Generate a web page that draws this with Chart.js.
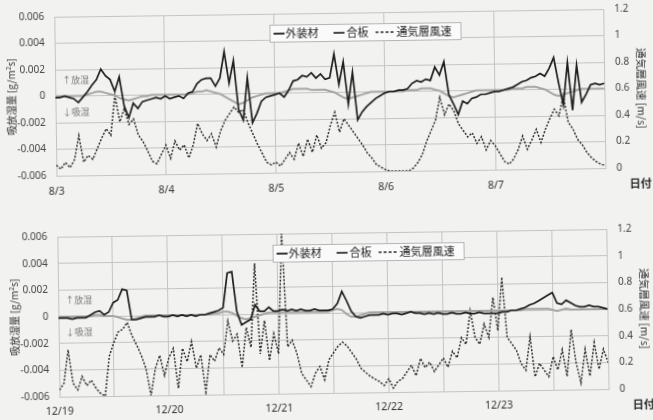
<!DOCTYPE html>
<html>
<head>
<meta charset="utf-8">
<script src="https://cdn.jsdelivr.net/npm/chart.js@4.4.0/dist/chart.umd.min.js"></script>
<style>
  html, body { margin: 0; padding: 0; background: #f2f2f0; }
  #wrap { width: 653px; height: 420px; transform: rotate(-0.8deg); transform-origin: 326px 210px; }
  .box { width: 653px; height: 210px; position: relative; }
  #topChart { position: absolute; left: 0; top: -4px; }
</style>
</head>
<body>
<div id="wrap">
  <div class="box"><canvas id="topChart" width="653" height="214"></canvas></div>
  <div class="box"><canvas id="bottomChart" width="653" height="210"></canvas></div>
</div>
<script>
// hours from the first day 0:00, one value per hour
const topDays = ['8/3', '8/4', '8/5', '8/6', '8/7'];
const bottomDays = ['12/19', '12/20', '12/21', '12/22', '12/23'];
const leftTickLabels = ['-0.006', '-0.004', '-0.002', '0', '0.002', '0.004', '0.006'];
const rightTickLabels = ['0', '0.2', '0.4', '0.6', '0.8', '1', '1.2'];
const seriesNames = ['外装材', '合板', '通気層風速'];

// summer: 外装材 [g/m2s]
const topOuter = [
  -0.0001, -0.0001, 0, -0.0001, -0.0002, -0.0005, -0.0001, 0.0003, 0.0008, 0.0012,
  0.002, 0.0015, 0.0012, 0.0003, 0.0014, -0.0008, -0.0017, -0.0006, -0.001, -0.0005,
  -0.0004, -0.0003, -0.0002, -0.0003, -0.0001, -0.0003, -0.0002, -0.0001, -0.0003, 0.0001,
  0.0002, 0.0008, 0.0011, 0.0012, 0.0012, 0.0006, 0.0012, 0.0032, 0.0008, 0.0025,
  -0.0012, -0.002, 0.0012, -0.0022, -0.0015, -0.0006, -0.0003, -0.0002, -0.0001, 0,
  -0.0003, 0.0002, 0.0009, 0.001, 0.0013, 0.0012, 0.0015, 0.0011, 0.0014, 0.001,
  0.0011, 0.0029, 0.0006, 0.0023, -0.0009, 0.0015, -0.0021, -0.0015, -0.0011, -0.0008,
  -0.0005, -0.0003, -0.0001, 0, 0, 0.0001, 0.0001, 0.0002, 0.0006, 0.0008,
  0.0007, 0.0009, 0.0008, 0.0018, 0.0012, 0.0022, -0.0003, -0.001, -0.0018, -0.0008,
  -0.001, -0.0006, -0.0005, -0.0003, -0.0003, -0.0002, -0.0001, -0.0001, 0, 0.0001,
  0.0002, 0.0004, 0.0006, 0.0007, 0.0009, 0.001, 0.0012, 0.001, 0.0016, 0.0024,
  0.0005, -0.0012, 0.002, -0.0016, 0.0018, -0.001, -0.0004, 0.0003, 0.0004, 0.0003, 0.0004
];
// summer: 合板 [g/m2s]
const topPly = [
  0, 0, 0, 0, 0, 0, 0, 0.0001, 0.0002, 0.0003,
  0.0003, 0.0002, 0.0001, 0, -0.0002, -0.0003, -0.0004, -0.0003, -0.0002, -0.0001,
  -0.0001, 0, 0, 0, 0, 0, 0, 0, 0, 0,
  0.0001, 0.0002, 0.0002, 0.0003, 0.0002, 0.0001, 0, -0.0002, -0.0004, -0.0006,
  -0.0008, -0.0007, -0.0005, -0.0003, -0.0002, -0.0001, 0, 0, 0, 0,
  0.0001, 0.0002, 0.0003, 0.0003, 0.0003, 0.0003, 0.0002, 0.0002, 0.0002, 0.0002,
  0.0001, 0, -0.0002, -0.0004, -0.0005, -0.0004, -0.0003, -0.0002, -0.0001, 0,
  0, 0, 0, 0, 0, 0, 0, 0.0001, 0.0001, 0.0001,
  0.0002, 0.0002, 0.0002, 0.0001, 0, -0.0002, -0.0004, -0.0005, -0.0004, -0.0003,
  -0.0002, -0.0001, 0, 0, 0, 0, 0, 0, 0, 0,
  0.0001, 0.0001, 0.0001, 0.0002, 0.0002, 0.0002, 0.0001, 0, -0.0002, -0.0004,
  -0.0005, -0.0004, -0.0003, -0.0002, -0.0001, 0, 0, 0, 0, 0, 0
];
// summer: 通気層風速 [m/s]
const topWind = [
  0.08, 0.05, 0.1, 0.06, 0.12, 0.3, 0.1, 0.15, 0.12, 0.2,
  0.28, 0.35, 0.3, 0.6, 0.4, 0.5, 0.38, 0.42, 0.3, 0.25,
  0.18, 0.1, 0.08, 0.15, 0.22, 0.12, 0.25, 0.18, 0.22, 0.12,
  0.22, 0.38, 0.3, 0.25, 0.3, 0.2, 0.32, 0.4, 0.45, 0.5,
  0.46, 0.48, 0.38, 0.3, 0.22, 0.15, 0.08, 0.06, 0.08, 0.05,
  0.1, 0.15, 0.1, 0.22, 0.12, 0.25, 0.15, 0.28, 0.18, 0.22,
  0.35, 0.45, 0.3, 0.4, 0.35, 0.3, 0.25, 0.2, 0.14, 0.1,
  0.05, 0.03, 0.01, 0, 0, 0, 0, 0, 0.02, 0.06,
  0.12, 0.22, 0.3, 0.38, 0.55, 0.42, 0.5, 0.45, 0.35, 0.3,
  0.25, 0.28, 0.2, 0.25, 0.15, 0.22, 0.18, 0.12, 0.06, 0.04,
  0.08, 0.15, 0.25, 0.15, 0.22, 0.3, 0.2, 0.3, 0.38, 0.45,
  0.4, 0.55, 0.35, 0.3, 0.22, 0.18, 0.12, 0.08, 0.05, 0.03, 0.02
];

// winter: 外装材 [g/m2s]
const bottomOuter = [
  -0.0001, -0.0001, -0.0001, -0.0002, -0.0001, -0.0001, -0.0001, 0.0001, 0.0003, 0.0004,
  0.0001, 0.0003, 0.001, 0.0012, 0.002, 0.0019, -0.0003, -0.0003, -0.0002, -0.0001,
  -0.0001, -0.0001, 0, -0.0001, -0.0001, 0, -0.0001, 0, -0.0001, 0,
  -0.0001, 0, 0, 0.0001, 0.0002, 0.0003, 0.0005, 0.0031, 0.0032, 0.0002,
  -0.0008, -0.0006, -0.0004, 0.0007, 0.0002, 0.0002, 0.0005, 0.0002, 0.0002, 0.0003,
  0.0002, 0.0003, 0.0002, 0.0003, 0.0002, 0.0002, 0.0003, 0.0002, 0.0002, 0.0002,
  0.0003, 0.0007, 0.0016, 0.0009, 0.0001, -0.0003, -0.0004, -0.0003, -0.0002, -0.0002,
  -0.0002, -0.0001, -0.0002, -0.0001, -0.0001, -0.0002, -0.0001, 0, -0.0001, -0.0001,
  -0.0002, -0.0001, -0.0002, -0.0001, -0.0002, -0.0002, -0.0001, -0.0002, -0.0002, -0.0001,
  -0.0002, -0.0002, -0.0001, -0.0002, -0.0002, -0.0002, -0.0002, -0.0001, -0.0001, 0,
  0, 0.0001, 0.0002, 0.0004, 0.0005, 0.0007, 0.0009, 0.0011, 0.0013, 0.0005,
  0.0004, 0.0007, 0.0005, 0.0003, 0.0002, 0.0002, 0.0003, 0.0002, 0.0002, 0.0001, 0
];
// winter: 合板 [g/m2s]
const bottomPly = [
  0, 0, 0, 0, 0, 0, 0, 0, 0.0001, 0.0001,
  0, 0, 0, -0.0001, -0.0002, -0.0003, -0.0003, -0.0002, -0.0001, 0,
  0, 0, 0, 0, 0, 0, 0, 0, 0, 0,
  0, 0, 0, 0, 0.0001, 0.0001, 0.0002, 0.0002, 0.0001, -0.0001,
  -0.0003, -0.0004, -0.0003, -0.0002, -0.0001, 0, 0.0001, 0.0001, 0.0001, 0.0001,
  0.0001, 0.0001, 0.0001, 0.0001, 0.0001, 0.0001, 0.0001, 0.0001, 0.0001, 0.0001,
  0.0002, 0.0003, 0.0002, -0.0001, -0.0003, -0.0003, -0.0002, -0.0001, 0, 0,
  0, 0, 0, 0, 0, 0, 0, 0, 0, 0,
  0, 0, 0, 0, 0, 0, 0, 0, 0, 0,
  0, 0, 0, 0, 0, 0, 0, 0, 0, 0,
  0, 0, 0.0001, 0.0001, 0.0001, 0.0001, 0.0001, 0.0001, 0, -0.0001,
  0, 0.0001, 0, 0, 0, 0, 0, 0, 0, 0, 0
];
// winter: 通気層風速 [m/s]
const bottomWind = [
  0.05, 0.1, 0.35, 0.1, 0.05, 0.15, 0.08, 0.12, 0.06, 0.02,
  0, 0.3, 0.4, 0.48, 0.5, 0.55, 0.45, 0.38, 0.3, 0.2,
  0, 0.2, 0.3, 0.15, 0.28, 0.35, 0.05, 0.35, 0.25, 0.4,
  0.2, 0.3, 0.02, 0.3, 0.25, 0.35, 0.3, 0.55, 0.4, 0.45,
  0.2, 0.5, 0.35, 0.98, 0.3, 0.55, 0.25, 0.45, 0.3, 1.2,
  0.35, 0.4, 0.3, 0.15, 0.1, 0.05, 0.15, 0.2, 0.1, 0.25,
  0.3, 0.35, 0.38, 0.35, 0.3, 0.25, 0.18, 0.15, 0.12, 0.1,
  0.08, 0.05, 0.1, 0.03, 0.08, 0.1, 0.15, 0.2, 0.12, 0.25,
  0.18, 0.22, 0.15, 0.2, 0.25, 0.18, 0.3, 0.25, 0.4, 0.35,
  0.6, 0.4, 0.35, 0.5, 0.4, 0.7, 0.45, 0.85, 0.4, 0.35,
  0.3, 0.2, 0.15, 0.4, 0.1, 0.2, 0.15, 0.1, 0.25, 0.15,
  0.3, 0.1, 0.45, 0.2, 0.05, 0.3, 0.1, 0.35, 0.15, 0.3, 0.2
];

const FONT = "'Noto Sans', 'Noto Sans CJK JP', sans-serif";
const JP = "'Noto Sans CJK JP', sans-serif";
Chart.defaults.font.family = FONT;
Chart.defaults.color = '#444';

const GRID = '#c4c4c4';
const OUTER_COLOR = '#1e1e1e';
const PLY_COLOR = '#a5a5a5';
const WIND_COLOR = '#2e2e2e';

const toPoints = (arr) => arr.map((v, i) => ({ x: i, y: v }));

// legend box, 放湿/吸湿 notes and 日付 label
const extras = {
    id: 'extras',
    afterDraw(chart) {
        const ctx = chart.ctx;
        const area = chart.chartArea;
        const y = chart.scales.y;

        ctx.save();

        // legend
        const lx = 272, ly = area.top + 11, lw = 191, lh = 17;
        ctx.fillStyle = '#fafafa';
        ctx.fillRect(lx, ly, lw, lh);
        ctx.strokeStyle = '#b5b5b5';
        ctx.lineWidth = 1;
        ctx.strokeRect(lx + 0.5, ly + 0.5, lw, lh);

        const my = ly + lh / 2 + 0.5;
        ctx.font = '11px ' + JP;
        ctx.textBaseline = 'middle';
        ctx.textAlign = 'left';

        ctx.strokeStyle = OUTER_COLOR;
        ctx.lineWidth = 1.8;
        ctx.beginPath(); ctx.moveTo(276, my); ctx.lineTo(287, my); ctx.stroke();
        ctx.fillStyle = '#222';
        ctx.fillText(seriesNames[0], 288, my);

        ctx.strokeStyle = '#333';
        ctx.beginPath(); ctx.moveTo(336, my); ctx.lineTo(347, my); ctx.stroke();
        ctx.fillText(seriesNames[1], 349, my);

        ctx.strokeStyle = WIND_COLOR;
        ctx.lineWidth = 1.4;
        ctx.setLineDash([3, 2]);
        ctx.beginPath(); ctx.moveTo(378, my); ctx.lineTo(397, my); ctx.stroke();
        ctx.setLineDash([]);
        ctx.fillText(seriesNames[2], 399, my);

        // notes
        ctx.font = '9px ' + JP;
        ctx.fillStyle = '#777';
        ctx.fillText('↑放湿', area.left + 7, y.getPixelForValue(0.0012));
        ctx.fillText('↓吸湿', area.left + 7, y.getPixelForValue(-0.0012));

        // x axis name
        ctx.font = 'bold 11px ' + JP;
        ctx.fillStyle = '#222';
        ctx.textAlign = 'center';
        ctx.fillText('日付', 641, area.bottom + 16);

        ctx.restore();
    }
};

const makeChart = (id, days, outer, ply, wind, opts) => {
    const ctx = document.getElementById(id).getContext('2d');
    return new Chart(ctx, {
        type: 'line',
        data: {
            datasets: [
                {
                    label: seriesNames[0],
                    data: toPoints(outer),
                    borderColor: OUTER_COLOR,
                    borderWidth: 1.7,
                    yAxisID: 'y'
                },
                {
                    label: seriesNames[1],
                    data: toPoints(ply),
                    borderColor: PLY_COLOR,
                    borderWidth: 2,
                    yAxisID: 'y'
                },
                {
                    label: seriesNames[2],
                    data: toPoints(wind),
                    borderColor: WIND_COLOR,
                    borderWidth: 1.5,
                    borderDash: [2, 1.6],
                    yAxisID: 'y2'
                }
            ]
        },
        options: {
            responsive: false,
            animation: false,
            events: [],
            elements: {
                point: { radius: 0 },
                line: { tension: 0 }
            },
            layout: {
                padding: { top: opts.padTop, bottom: opts.padBottom, left: 0, right: 0 }
            },
            plugins: {
                legend: { display: false },
                tooltip: { enabled: false }
            },
            scales: {
                x: {
                    type: 'linear',
                    min: 0,
                    max: 120,
                    afterFit: (s) => { s.height = opts.xHeight; },
                    grid: { color: GRID, drawTicks: false },
                    border: { color: GRID },
                    ticks: {
                        stepSize: opts.xStep,
                        autoSkip: false,
                        maxRotation: 0,
                        padding: opts.xPad,
                        color: '#333',
                        font: { size: 10.5 },
                        callback: (v) => (v % 24 === 0 ? (days[v / 24] || '') : '')
                    }
                },
                y: {
                    position: 'left',
                    min: -0.006,
                    max: 0.006,
                    afterFit: (s) => { s.width = 57; },
                    grid: { color: GRID, drawTicks: false },
                    border: { color: GRID },
                    ticks: {
                        stepSize: 0.002,
                        padding: 10,
                        color: '#444',
                        font: { size: 10 },
                        callback: (v, i) => leftTickLabels[i]
                    },
                    title: {
                        display: true,
                        text: '吸放湿量 [g/m²s]',
                        color: '#333',
                        font: { family: JP, size: 10 },
                        padding: { top: 7, bottom: 0 }
                    }
                },
                y2: {
                    position: 'right',
                    min: 0,
                    max: 1.2,
                    afterFit: (s) => { s.width = 47; },
                    grid: { display: false, drawTicks: false },
                    border: { color: GRID },
                    ticks: {
                        stepSize: 0.2,
                        padding: 11,
                        color: '#444',
                        font: { size: 10 },
                        callback: (v, i) => rightTickLabels[i]
                    },
                    title: {
                        display: true,
                        text: '通気層風速 [m/s]',
                        color: '#333',
                        font: { family: JP, size: 10.5 },
                        padding: { top: 4, bottom: 0 }
                    }
                }
            }
        },
        plugins: [extras]
    });
};

makeChart('topChart', topDays, topOuter, topPly, topWind,
    { padTop: 13, padBottom: 8, xHeight: 30, xStep: 24, xPad: 10 });
makeChart('bottomChart', bottomDays, bottomOuter, bottomPly, bottomWind,
    { padTop: 23, padBottom: 0, xHeight: 27, xStep: 12, xPad: 9 });
</script>
</body>
</html>
